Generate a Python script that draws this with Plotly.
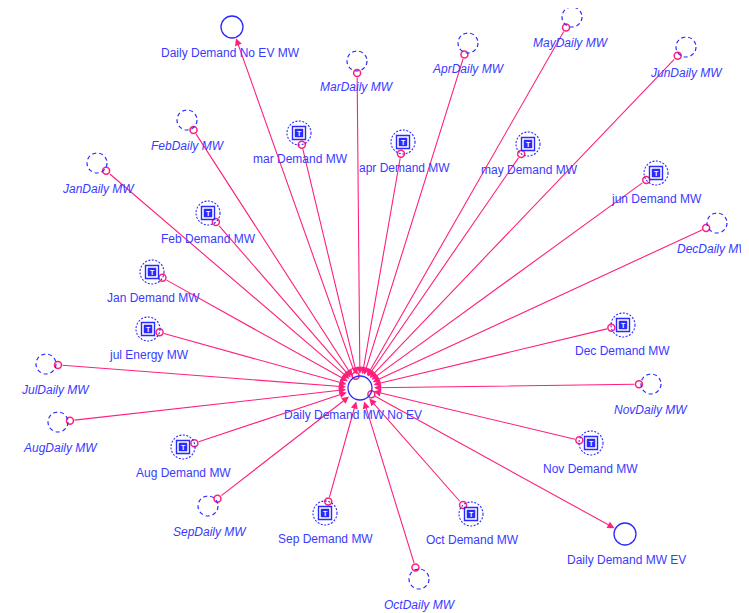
import numpy as np
import plotly.graph_objects as go

# ---- diagram content ----
center_name = "Daily Demand MW No EV"
center_x, center_y = 360, 388
center_label_dx = -7

output_names = ["Daily Demand No EV MW", "Daily Demand MW EV"]
output_x = [232, 625]
output_y = [27, 534]
output_label_dx = [-2, 1]

daily_names = ["JanDaily MW", "FebDaily MW", "MarDaily MW", "AprDaily MW", "MayDaily MW", "JunDaily MW",
               "JulDaily MW", "AugDaily MW", "SepDaily MW", "OctDaily MW", "NovDaily MW", "DecDaily MW"]
daily_x = [97, 187, 357, 468, 572, 686, 46, 58, 208, 419, 651, 717]
daily_y = [163, 120, 61, 43, 17, 47, 364, 422, 506, 579, 384, 223]
daily_label_dx = [1, 1, 0, 0, -1, 0, 9, 2, 2, 1, 0, -3]

demand_names = ["Jan Demand MW", "Feb Demand MW", "mar Demand MW", "apr Demand MW", "may Demand MW",
                "jun Demand MW", "jul Energy MW", "Aug Demand MW", "Sep Demand MW", "Oct Demand MW",
                "Nov Demand MW", "Dec Demand MW"]
demand_x = [152, 208, 299, 403, 528, 656, 148, 183, 325, 471, 591, 623]
demand_y = [272, 213, 133, 142, 144, 173, 329, 447, 513, 514, 443, 325]
demand_label_dx = [1, 0, 1, 1, 1, 0, 1, 0, 0, 1, -1, -1]

# ---- styles ----
PINK = "#ff1f7d"
BLUE = "#2a2aff"
TEXT = "#3a3aff"
FONT = "Liberation Sans, Arial, sans-serif"
LABEL_DY = 26
R_DAILY = 10
R_DEMAND = 12
R_CENTER = 12
R_OUT = 11
PAGE_MARGIN = 8  # default body margin of the html page

fig = go.Figure()
shapes = []
annotations = []


def circle(x, y, r, dash="solid", width=1.2):
    shapes.append(dict(type="circle", xref="x", yref="y", x0=x - r, x1=x + r, y0=y - r, y1=y + r,
                       line=dict(color=BLUE, width=width, dash=dash)))


def label(x, y, text, italic=False):
    t = f"<i>{text}</i>" if italic else text
    annotations.append(dict(x=x, y=y, xref="x", yref="y", text=t, showarrow=False,
                            font=dict(family=FONT, size=12, color=TEXT),
                            xanchor="center", yanchor="middle"))


def edge_point(x, y, r, tx, ty):
    v = np.array([tx - x, ty - y], dtype=float)
    v /= np.linalg.norm(v)
    return x + r * v[0], y + r * v[1]


dot_x, dot_y = [], []

all_in = [(n, x, y, dx, "daily") for n, x, y, dx in zip(daily_names, daily_x, daily_y, daily_label_dx)] + \
         [(n, x, y, dx, "demand") for n, x, y, dx in zip(demand_names, demand_x, demand_y, demand_label_dx)]

for name, x, y, dx, kind in all_in:
    r = R_DAILY + 2 if kind == "daily" else R_DEMAND
    px, py = edge_point(x, y, r, center_x, center_y)
    dot_x.append(px)
    dot_y.append(py)
    annotations.append(dict(x=center_x, y=center_y, ax=px, ay=py, xref="x", yref="y",
                            axref="x", ayref="y", text="", showarrow=True, arrowhead=2,
                            arrowsize=1.3, arrowwidth=1.1, arrowcolor=PINK,
                            standoff=R_CENTER + 2, startstandoff=3))
    if kind == "daily":
        circle(x, y, R_DAILY, dash="4px,3px", width=1.2)
        label(x + dx, y + LABEL_DY, name, italic=True)
    else:
        circle(x, y, R_DEMAND, dash="2px,1.5px", width=1.1)
        shapes.append(dict(type="rect", xref="x", yref="y", x0=x - 6.5, x1=x + 6.5, y0=y - 6.5, y1=y + 6.5,
                           line=dict(color=BLUE, width=1.4)))
        shapes.append(dict(type="rect", xref="x", yref="y", x0=x - 4, x1=x + 4, y0=y - 4, y1=y + 4,
                           line=dict(color=BLUE, width=0.5), fillcolor=BLUE))
        annotations.append(dict(x=x, y=y + 0.5, xref="x", yref="y", text="<b>T</b>", showarrow=False,
                                font=dict(family=FONT, size=7, color="white"),
                                xanchor="center", yanchor="middle"))
        label(x + dx, y + LABEL_DY, name)

# center -> outputs
for name, x, y, dx in zip(output_names, output_x, output_y, output_label_dx):
    px, py = edge_point(center_x, center_y, R_CENTER + 1, x, y)
    dot_x.append(px)
    dot_y.append(py)
    annotations.append(dict(x=x, y=y, ax=center_x, ay=center_y, xref="x", yref="y",
                            axref="x", ayref="y", text="", showarrow=True, arrowhead=2,
                            arrowsize=1.3, arrowwidth=1.1, arrowcolor=PINK,
                            standoff=R_OUT + 1, startstandoff=R_CENTER + 3))
    circle(x, y, R_OUT, width=1.3)
    label(x + dx, y + LABEL_DY, name)

# center node
circle(center_x, center_y, R_CENTER, width=1.3)
label(center_x + center_label_dx, center_y + LABEL_DY + 1, center_name)

fig.add_trace(go.Scatter(x=dot_x, y=dot_y, mode="markers", hoverinfo="skip",
                         marker=dict(symbol="circle", size=7, color="white",
                                     line=dict(color=PINK, width=1.5))))

W, H = 749, 613
fig.update_layout(
    width=W - PAGE_MARGIN, height=H - PAGE_MARGIN,
    margin=dict(l=0, r=0, t=0, b=0),
    paper_bgcolor="white", plot_bgcolor="white",
    showlegend=False,
    shapes=shapes, annotations=annotations,
    xaxis=dict(range=[PAGE_MARGIN, W], visible=False, fixedrange=True),
    yaxis=dict(range=[H, PAGE_MARGIN], visible=False, fixedrange=True),
)

fig.write_html("out.html")
